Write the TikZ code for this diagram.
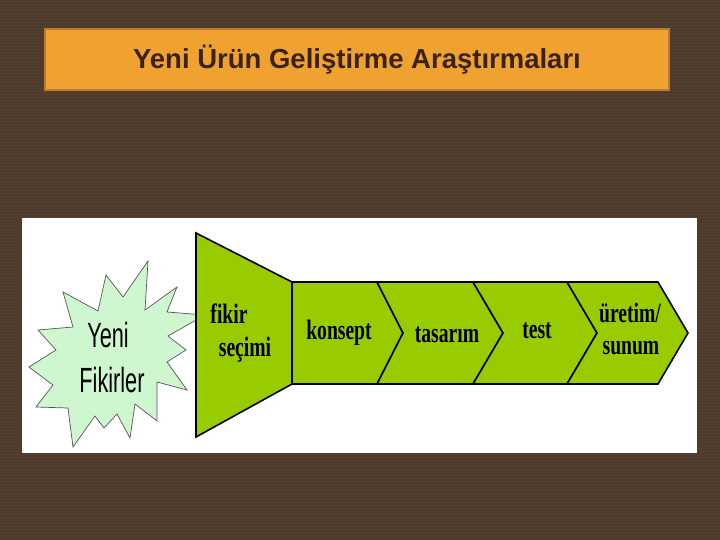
\documentclass[tikz,border=0pt]{standalone}
\usepackage{fontspec}
\setmainfont{Liberation Serif}
\newfontfamily\arialf{Liberation Sans}
\definecolor{bgbrown}{HTML}{4E3A2E}
\definecolor{bgstripe}{HTML}{54402F}
\definecolor{titlefill}{HTML}{F0A231}
\definecolor{titleborder}{HTML}{BD7D28}
\definecolor{titletext}{HTML}{3B2314}
\definecolor{stagegreen}{HTML}{99CC00}
\definecolor{starfill}{HTML}{CFF7CF}
\definecolor{starline}{HTML}{555555}
\tikzset{
  stageshape/.style={fill=stagegreen, draw=black, line width=1.6pt, line join=miter},
  stagetext/.style={font=\bfseries\fontsize{28}{30}\selectfont, xscale=0.7, inner sep=0pt, text=black},
  startext/.style={font=\arialf\fontsize{35}{37}\selectfont, xscale=0.62, inner sep=0pt, text=black},
  titlebox/.style={fill=titlefill, draw=titleborder, line width=2.5pt, minimum width=624pt, minimum height=61pt, inner sep=0pt,
    font=\arialf\bfseries\fontsize{27.5}{30}\selectfont, text=titletext}
}
\begin{document}
\begin{tikzpicture}[x=1pt,y=-1pt]
\useasboundingbox (0,0) rectangle (720,540);
% background
\fill[bgbrown] (0,0) rectangle (720,540);
\foreach \yy in {1.5,4.5,...,540} {\draw[bgstripe, line width=1pt] (0,\yy) -- (720,\yy);}
% title
\node[titlebox] (title) at (357,59.5) {Yeni Ürün Geliştirme Araştırmaları};
% white panel
\fill[white] (22,218) rectangle (697,453);
% starburst
\filldraw[fill=starfill, draw=starline, line width=0.7pt, line join=miter]
  (148,261) -- (145,310) -- (177,287) -- (167,312) -- (205,315) -- (168,336)
  -- (186,350) -- (167,362) -- (187,390) -- (157,382) -- (157,421) -- (135,404)
  -- (130,438) -- (117,414) -- (104,428) -- (95,416) -- (73,447) -- (68,408)
  -- (36,407) -- (53,385) -- (29,367) -- (56,350) -- (38,330) -- (73,327)
  -- (63,292) -- (98,311) -- (106,275) -- (123,297) -- cycle;
\node[startext] (yeni) at (108,335) {Yeni};
\node[startext] (fik) at (112,380) {Fikirler};
% funnel
\draw[stageshape] (196,233) coordinate (f1) -- (292,282) coordinate (f2) -- (292,384) coordinate (f3) -- (196,437) coordinate (f4) -- cycle;
% chevrons
\draw[stageshape] (292,282) -- (377,282) -- (403,333) -- (377,384) -- (292,384) -- cycle;
\draw[stageshape] (377,282) -- (473,282) -- (503,333) -- (473,384) -- (377,384) -- (403,333) -- cycle;
\draw[stageshape] (473,282) -- (567,282) -- (597,333) -- (567,384) -- (473,384) -- (503,333) -- cycle;
\draw[stageshape] (567,282) -- (658,282) -- (688,333) -- (658,384) -- (567,384) -- (597,333) -- cycle;
% stage texts
\node[stagetext] (fikir) at (229,314) {fikir};
\node[stagetext] (secimi) at (245,350) {seçimi};
\node[stagetext] (konsept) at (339,333) {konsept};
\node[stagetext] (tasarim) at (447,335) {tasarım};
\node[stagetext] (test) at (537,331) {test};
\node[stagetext] (uretim) at (630,313) {üretim/};
\node[stagetext] (sunum) at (631,348) {sunum};
\end{tikzpicture}
\end{document}
